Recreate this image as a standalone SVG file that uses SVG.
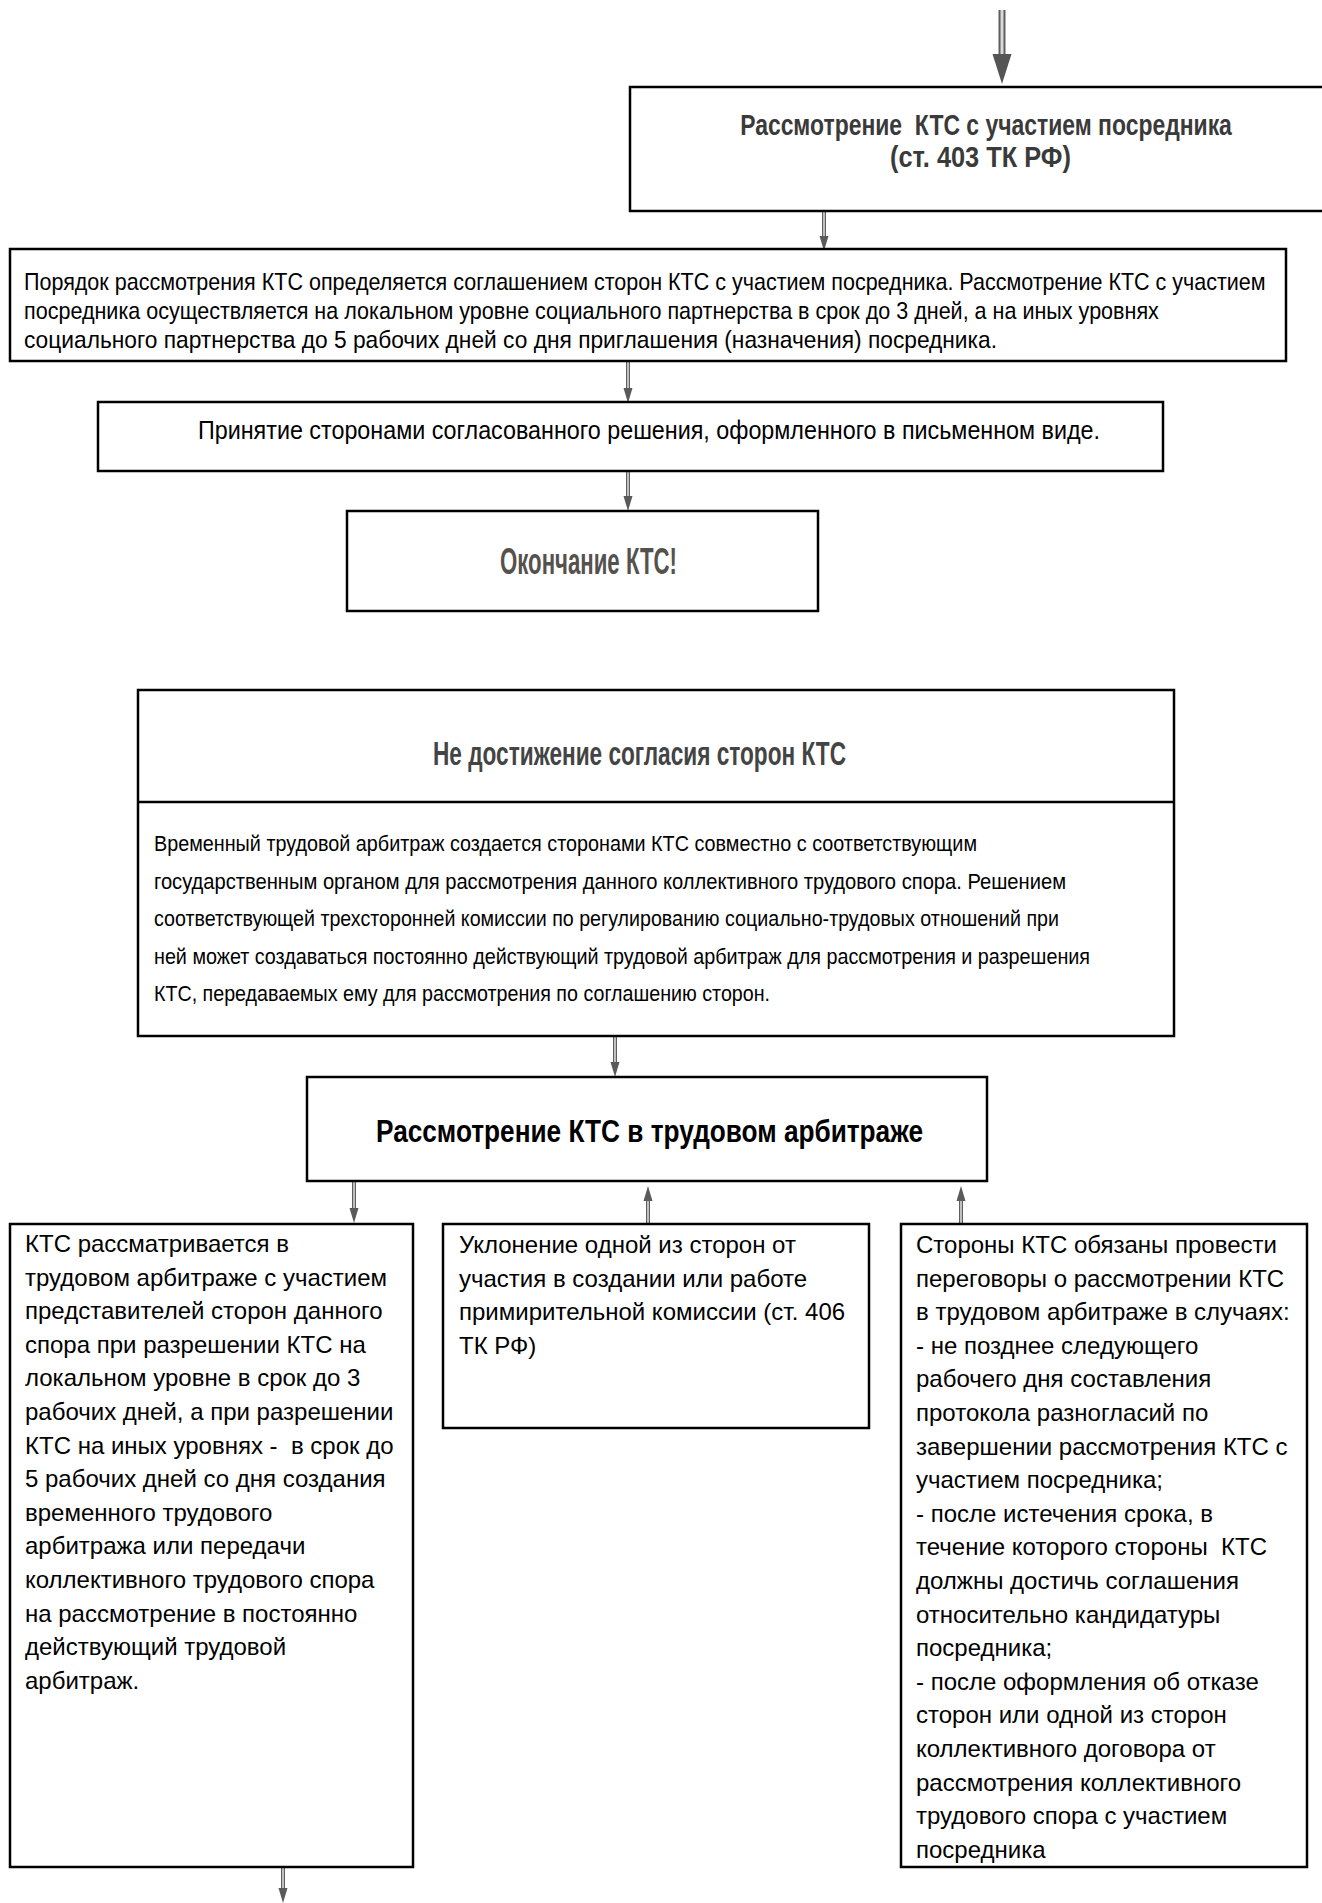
<svg xmlns="http://www.w3.org/2000/svg" width="1322" height="1903" viewBox="0 0 1322 1903">
<style>
  .box { fill: #ffffff; stroke: #000000; stroke-width: 2.5; }
  .t { font-family: "Liberation Sans", Arial, sans-serif; fill: #000000; }
  .title { font-family: "Liberation Sans", Arial, sans-serif; font-weight: bold; }
  .out { stroke: #5e5e5e; fill: none; }
  .in { stroke: #d9d9d9; fill: none; }
</style>
<defs>
  <marker id="ah" viewBox="0 -5 16 10" refX="0" refY="0" markerWidth="16" markerHeight="10" markerUnits="userSpaceOnUse" orient="auto" overflow="visible">
    <path d="M0,-4.5 L15,0 L0,4.5 Z" fill="#5a5a5a"/>
  </marker>
  <marker id="ahBig" viewBox="0 -10 32 20" refX="0" refY="0" markerWidth="32" markerHeight="20" markerUnits="userSpaceOnUse" orient="auto" overflow="visible">
    <path d="M0,-9.5 L30,0 L0,9.5 Z" fill="#555555"/>
  </marker>
</defs>
<rect x="0" y="0" width="1322" height="1903" fill="#ffffff"/>

<g id="connectors">
  <g id="c0">
    <line class="out" x1="1002" y1="10" x2="1002" y2="54" stroke-width="7" marker-end="url(#ahBig)"/>
    <line class="in" x1="1002" y1="10" x2="1002" y2="54" stroke-width="3"/>
  </g>
  <g id="c1">
    <line class="out" x1="824" y1="212" x2="824" y2="236" stroke-width="4" marker-end="url(#ah)"/>
    <line class="in" x1="824" y1="212" x2="824" y2="236" stroke-width="1.6"/>
  </g>
  <g id="c2">
    <line class="out" x1="628" y1="362" x2="628" y2="388" stroke-width="4" marker-end="url(#ah)"/>
    <line class="in" x1="628" y1="362" x2="628" y2="388" stroke-width="1.6"/>
  </g>
  <g id="c3">
    <line class="out" x1="628" y1="472" x2="628" y2="496" stroke-width="4" marker-end="url(#ah)"/>
    <line class="in" x1="628" y1="472" x2="628" y2="496" stroke-width="1.6"/>
  </g>
  <g id="c4">
    <line class="out" x1="615" y1="1037" x2="615" y2="1062" stroke-width="4" marker-end="url(#ah)"/>
    <line class="in" x1="615" y1="1037" x2="615" y2="1062" stroke-width="1.6"/>
  </g>
  <g id="c5">
    <line class="out" x1="354" y1="1182" x2="354" y2="1208" stroke-width="4" marker-end="url(#ah)"/>
    <line class="in" x1="354" y1="1182" x2="354" y2="1208" stroke-width="1.6"/>
  </g>
  <g id="c6">
    <line class="out" x1="648" y1="1223" x2="648" y2="1201" stroke-width="4" marker-end="url(#ah)"/>
    <line class="in" x1="648" y1="1223" x2="648" y2="1201" stroke-width="1.6"/>
  </g>
  <g id="c7">
    <line class="out" x1="961" y1="1223" x2="961" y2="1201" stroke-width="4" marker-end="url(#ah)"/>
    <line class="in" x1="961" y1="1223" x2="961" y2="1201" stroke-width="1.6"/>
  </g>
  <g id="c8">
    <line class="out" x1="283" y1="1868" x2="283" y2="1888" stroke-width="4" marker-end="url(#ah)"/>
    <line class="in" x1="283" y1="1868" x2="283" y2="1888" stroke-width="1.6"/>
  </g>
</g>

<g id="n1">
  <rect class="box" x="630" y="87" width="720" height="124"/>
  <text class="title" fill="#3a3a3a" font-size="30" transform="translate(986,135) scale(0.76,1)" x="0" y="0" text-anchor="middle" textLength="647" lengthAdjust="spacingAndGlyphs" xml:space="preserve">Рассмотрение  КТС с участием посредника</text>
  <text class="title" fill="#3a3a3a" font-size="30" transform="translate(980.5,167) scale(0.76,1)" x="0" y="0" text-anchor="middle" textLength="238" lengthAdjust="spacingAndGlyphs">(ст. 403 ТК РФ)</text>
</g>

<g id="n2">
  <rect class="box" x="10" y="249" width="1276" height="112"/>
  <text class="t" font-size="24" transform="scale(0.875,1)">
    <tspan x="27.43" y="290" textLength="1419" lengthAdjust="spacingAndGlyphs">Порядок рассмотрения КТС определяется соглашением сторон КТС с участием посредника. Рассмотрение КТС с участием</tspan>
    <tspan x="27.43" y="319" textLength="1297" lengthAdjust="spacingAndGlyphs">посредника осуществляется на локальном уровне социального партнерства в срок до 3 дней, а на иных уровнях</tspan>
    <tspan x="27.43" y="348" textLength="1112" lengthAdjust="spacingAndGlyphs">социального партнерства до 5 рабочих дней со дня приглашения (назначения) посредника.</tspan>
  </text>
</g>

<g id="n3">
  <rect class="box" x="98" y="402" width="1065" height="69"/>
  <text class="t" font-size="25" x="198" y="439" textLength="902" lengthAdjust="spacingAndGlyphs">Принятие сторонами согласованного решения, оформленного в письменном виде.</text>
</g>

<g id="n4">
  <rect class="box" x="347" y="511" width="471" height="100"/>
  <text class="title" fill="#55524e" font-size="36" x="500" y="574" textLength="177" lengthAdjust="spacingAndGlyphs">Окончание КТС!</text>
</g>

<g id="n5">
  <rect class="box" x="138" y="690" width="1036" height="346"/>
  <line x1="138" y1="802" x2="1174" y2="802" stroke="#000" stroke-width="2.5"/>
  <text class="title" fill="#444444" font-size="33" x="433" y="765" textLength="413" lengthAdjust="spacingAndGlyphs">Не достижение согласия сторон КТС</text>
  <text class="t" font-size="22">
    <tspan x="154" y="851" textLength="823" lengthAdjust="spacingAndGlyphs">Временный трудовой арбитраж создается сторонами КТС совместно с соответствующим</tspan>
    <tspan x="154" y="888.6" textLength="912" lengthAdjust="spacingAndGlyphs">государственным органом для рассмотрения данного коллективного трудового спора. Решением</tspan>
    <tspan x="154" y="926.2" textLength="905" lengthAdjust="spacingAndGlyphs">соответствующей трехсторонней комиссии по регулированию социально-трудовых отношений при</tspan>
    <tspan x="154" y="963.8" textLength="936" lengthAdjust="spacingAndGlyphs">ней может создаваться постоянно действующий трудовой арбитраж для рассмотрения и разрешения</tspan>
    <tspan x="154" y="1001.4" textLength="616" lengthAdjust="spacingAndGlyphs">КТС, передаваемых ему для рассмотрения по соглашению сторон.</tspan>
  </text>
</g>

<g id="n6">
  <rect class="box" x="307" y="1077" width="680" height="104"/>
  <text class="title" fill="#000000" font-size="31" x="376" y="1142" textLength="547" lengthAdjust="spacingAndGlyphs">Рассмотрение КТС в трудовом арбитраже</text>
</g>

<g id="n7">
  <rect class="box" x="10" y="1224" width="403" height="643"/>
  <text class="t" font-size="24" xml:space="preserve"><tspan x="25" y="1252">КТС рассматривается в</tspan><tspan x="25" dy="33.6">трудовом арбитраже с участием</tspan><tspan x="25" dy="33.6">представителей сторон данного</tspan><tspan x="25" dy="33.6">спора при разрешении КТС на</tspan><tspan x="25" dy="33.6">локальном уровне в срок до 3</tspan><tspan x="25" dy="33.6">рабочих дней, а при разрешении</tspan><tspan x="25" dy="33.6">КТС на иных уровнях -  в срок до</tspan><tspan x="25" dy="33.6">5 рабочих дней со дня создания</tspan><tspan x="25" dy="33.6">временного трудового</tspan><tspan x="25" dy="33.6">арбитража или передачи</tspan><tspan x="25" dy="33.6">коллективного трудового спора</tspan><tspan x="25" dy="33.6">на рассмотрение в постоянно</tspan><tspan x="25" dy="33.6">действующий трудовой</tspan><tspan x="25" dy="33.6">арбитраж.</tspan></text>
</g>

<g id="n8">
  <rect class="box" x="443" y="1224" width="426" height="204"/>
  <text class="t" font-size="24"><tspan x="459" y="1253">Уклонение одной из сторон от</tspan><tspan x="459" dy="33.6">участия в создании или работе</tspan><tspan x="459" dy="33.6">примирительной комиссии (ст. 406</tspan><tspan x="459" dy="33.6">ТК РФ)</tspan></text>
</g>

<g id="n9">
  <rect class="box" x="901" y="1224" width="406" height="643"/>
  <text class="t" font-size="24" xml:space="preserve"><tspan x="916" y="1253">Стороны КТС обязаны провести</tspan><tspan x="916" dy="33.6">переговоры о рассмотрении КТС</tspan><tspan x="916" dy="33.6">в трудовом арбитраже в случаях:</tspan><tspan x="916" dy="33.6">- не позднее следующего</tspan><tspan x="916" dy="33.6">рабочего дня составления</tspan><tspan x="916" dy="33.6">протокола разногласий по</tspan><tspan x="916" dy="33.6">завершении рассмотрения КТС с</tspan><tspan x="916" dy="33.6">участием посредника;</tspan><tspan x="916" dy="33.6">- после истечения срока, в</tspan><tspan x="916" dy="33.6">течение которого стороны  КТС</tspan><tspan x="916" dy="33.6">должны достичь соглашения</tspan><tspan x="916" dy="33.6">относительно кандидатуры</tspan><tspan x="916" dy="33.6">посредника;</tspan><tspan x="916" dy="33.6">- после оформления об отказе</tspan><tspan x="916" dy="33.6">сторон или одной из сторон</tspan><tspan x="916" dy="33.6">коллективного договора от</tspan><tspan x="916" dy="33.6">рассмотрения коллективного</tspan><tspan x="916" dy="33.6">трудового спора с участием</tspan><tspan x="916" dy="33.6">посредника</tspan></text>
</g>
</svg>
